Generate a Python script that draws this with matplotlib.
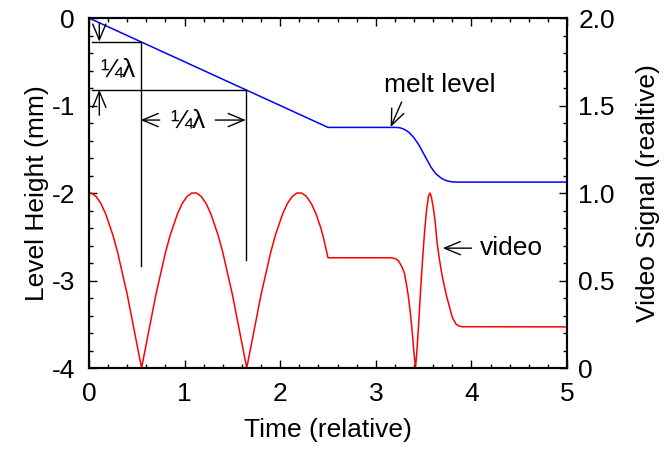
import numpy as np
import matplotlib.pyplot as plt
from matplotlib.ticker import MultipleLocator, FuncFormatter

plt.rcParams['font.family'] = ['Liberation Sans', 'DejaVu Sans']
plt.rcParams['font.size'] = 19

# melt level (left axis, mm)
t_level = [0.0, 2.5, 3.20, 3.225, 3.25, 3.275, 3.30, 3.325, 3.35, 3.375, 3.40,
           3.425, 3.45, 3.475, 3.50, 3.525, 3.55, 3.575, 3.60, 3.625, 3.65,
           3.675, 3.70, 3.725, 3.75, 3.775, 3.80, 3.85, 5.0]
level = [0.0, -1.25, -1.25, -1.251, -1.254, -1.262, -1.274, -1.29, -1.31, -1.34,
         -1.37, -1.41, -1.45, -1.50, -1.55, -1.60, -1.65, -1.70, -1.74, -1.775,
         -1.80, -1.822, -1.84, -1.853, -1.862, -1.868, -1.872, -1.875, -1.875]

# video signal (right axis, relative), first part sampled every 0.025
t_video_a = np.round(np.arange(0, 2.5001, 0.025), 3)
video_a = [1.0, 1.0, 0.99, 0.98, 0.96, 0.94, 0.91, 0.88, 0.84, 0.80, 0.76, 0.71,
           0.66, 0.60, 0.54, 0.48, 0.42, 0.35, 0.28, 0.21, 0.14, 0.07, 0.0,
           0.07, 0.14, 0.21, 0.28, 0.35, 0.42, 0.48, 0.54, 0.60, 0.66, 0.71,
           0.76, 0.80, 0.84, 0.88, 0.91, 0.94, 0.96, 0.98, 0.99, 1.0, 1.0,
           1.0, 0.99, 0.98, 0.96, 0.94, 0.91, 0.88, 0.84, 0.80, 0.76, 0.71,
           0.66, 0.60, 0.54, 0.48, 0.42, 0.35, 0.28, 0.21, 0.14, 0.07, 0.0,
           0.07, 0.14, 0.21, 0.28, 0.35, 0.42, 0.48, 0.54, 0.60, 0.66, 0.71,
           0.76, 0.80, 0.84, 0.88, 0.91, 0.94, 0.96, 0.98, 0.99, 1.0, 1.0,
           1.0, 0.99, 0.98, 0.96, 0.94, 0.91, 0.88, 0.84, 0.80, 0.75, 0.69, 0.63]
t_video_b = [3.15, 3.18, 3.20, 3.22, 3.24, 3.26, 3.28, 3.30, 3.32, 3.34, 3.36,
             3.38, 3.40, 3.415, 3.43, 3.45, 3.47, 3.49, 3.51, 3.53, 3.55, 3.565,
             3.58, 3.60, 3.62, 3.64, 3.66, 3.68, 3.70, 3.72, 3.74, 3.76, 3.78,
             3.80, 3.82, 3.84, 3.87, 3.90, 5.0]
video_b = [0.63, 0.628, 0.625, 0.62, 0.61, 0.59, 0.57, 0.54, 0.48, 0.41, 0.32,
           0.21, 0.08, 0.0, 0.10, 0.27, 0.46, 0.63, 0.78, 0.90, 0.98, 1.0,
           0.98, 0.92, 0.84, 0.72, 0.64, 0.57, 0.51, 0.46, 0.41, 0.37, 0.33,
           0.29, 0.27, 0.25, 0.24, 0.236, 0.235]
t_video = list(t_video_a) + t_video_b
video = video_a + video_b

# quarter-wave marks
qw_levels = [-0.27, -0.82]
qw_times = [0.54, 1.64]

fig = plt.figure(figsize=(6.64, 4.51), dpi=100)
ax = fig.add_axes([0.134, 0.184, 0.72, 0.776])
ax2 = ax.twinx()

ax.plot(t_level, level, color='blue', lw=1.1)
ax2.plot(t_video, video, color='red', lw=1.1)

ax.set_xlim(0, 5)
ax.set_ylim(-4, 0)
ax2.set_ylim(0, 2.0)

ax.xaxis.set_major_locator(MultipleLocator(1))
ax.xaxis.set_minor_locator(MultipleLocator(0.2))
ax.yaxis.set_major_locator(MultipleLocator(1))
ax.yaxis.set_minor_locator(MultipleLocator(0.2))
ax2.yaxis.set_major_locator(MultipleLocator(0.5))
ax2.yaxis.set_minor_locator(MultipleLocator(0.1))
ax.yaxis.set_major_formatter(FuncFormatter(lambda v, p: '%d' % v))
ax2.yaxis.set_major_formatter(FuncFormatter(lambda v, p: '0' if v == 0 else '%.1f' % v))

ax.tick_params(which='both', direction='in', top=True, right=False, width=1)
ax.tick_params(which='major', length=5.5)
ax.tick_params(which='minor', length=3)
ax.tick_params(axis='x', pad=10)
ax.tick_params(axis='y', pad=10)
ax2.tick_params(which='both', direction='in', width=1)
ax2.tick_params(which='major', length=5.5, pad=8)
ax2.tick_params(which='minor', length=3)

for sp in ax.spines.values():
    sp.set_linewidth(1.5)
for sp in ax2.spines.values():
    sp.set_linewidth(1.5)

ax.set_xlabel('Time (relative)', labelpad=9)
ax.set_ylabel('Level Height (mm)', labelpad=2)
ax2.set_ylabel('Video Signal (realtive)', labelpad=15)

# quarter-wave dimension lines
ax.plot([0.03, qw_times[0]], [qw_levels[0], qw_levels[0]], color='black', lw=1)
ax.plot([0.03, qw_times[1]], [qw_levels[1], qw_levels[1]], color='black', lw=1)
ax.plot([qw_times[0], qw_times[0]], [qw_levels[0], -2.83], color='black', lw=1)
ax.plot([qw_times[1], qw_times[1]], [qw_levels[1], -2.77], color='black', lw=1)

arr = dict(arrowstyle='->,head_length=0.6,head_width=0.25', lw=1, color='black',
           shrinkA=0, shrinkB=0, mutation_scale=19)
ax.annotate('', xy=(0.108, qw_levels[0]), xytext=(0.108, -0.06), arrowprops=arr)
ax.annotate('', xy=(0.108, qw_levels[1]), xytext=(0.108, -1.11), arrowprops=arr)
ax.annotate('', xy=(qw_times[0], -1.166), xytext=(0.74, -1.166), arrowprops=arr)
ax.annotate('', xy=(qw_times[1], -1.166), xytext=(1.32, -1.166), arrowprops=arr)
ax.text(0.30, -0.59, '¼λ', ha='center', va='center')
ax.text(1.03, -1.166, '¼λ', ha='center', va='center')

ax.annotate('', xy=(3.155, -1.245), xytext=(3.27, -0.96), arrowprops=arr)
ax.text(3.67, -0.77, 'melt level', ha='center', va='center')
ax.annotate('', xy=(3.70, -2.63), xytext=(4.0, -2.63), arrowprops=arr)
ax.text(4.09, -2.63, 'video', ha='left', va='center')

plt.savefig('out.png', dpi=100)
